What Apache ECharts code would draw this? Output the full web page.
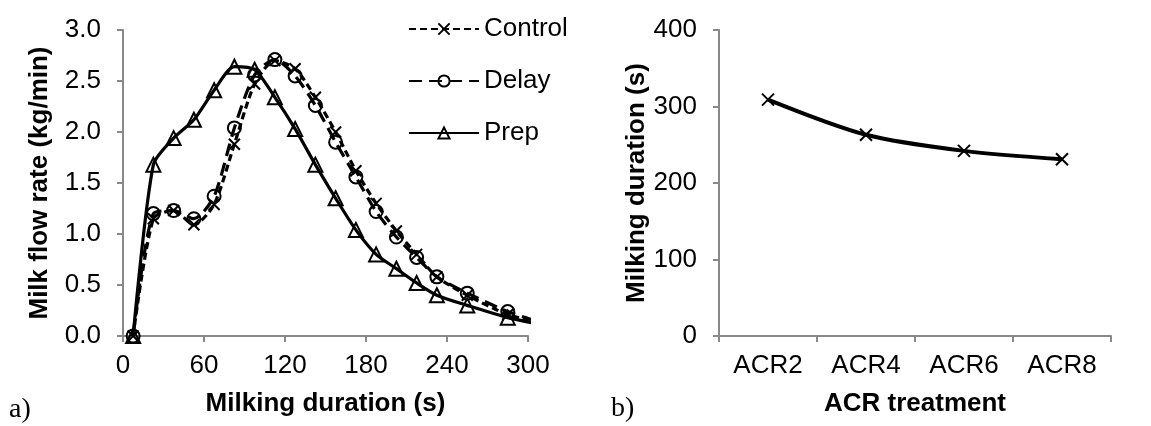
<!DOCTYPE html>
<html>
<head>
<meta charset="utf-8">
<script src="https://cdn.jsdelivr.net/npm/echarts@6/dist/echarts.min.js"></script>
<style>
  html, body { margin: 0; padding: 0; background: #fff; }
  #main { width: 1151px; height: 426px; }
</style>
</head>
<body>
<div id="main"></div>
<script>
// a) milk flow rate curves
var durations = [7.5, 22.5, 37.5, 52.5, 67.5, 82.5, 97.5, 112.5, 127.5, 142.5, 157.5, 172.5, 187.5, 202.5, 217.5, 232.5, 255, 285, 315];
var control = [0, 1.15, 1.23, 1.09, 1.29, 1.88, 2.47, 2.70, 2.62, 2.34, 2.00, 1.62, 1.30, 1.03, 0.80, 0.58, 0.40, 0.21, 0.11];
var delay = [0, 1.20, 1.23, 1.15, 1.37, 2.04, 2.56, 2.71, 2.55, 2.26, 1.90, 1.56, 1.22, 0.97, 0.77, 0.58, 0.42, 0.24, 0.11];
var prep = [0, 1.68, 1.94, 2.12, 2.41, 2.64, 2.61, 2.34, 2.03, 1.68, 1.35, 1.04, 0.80, 0.66, 0.52, 0.40, 0.30, 0.18, 0.10];

// b) milking duration by treatment
var treatments = ['ACR2', 'ACR4', 'ACR6', 'ACR8'];
var duration = [309, 263, 242, 231];

var font = 'Liberation Sans, Arial, sans-serif';
var crossPath = 'path://M0,0L10,10M10,0L0,10';

function pairs(xs, ys) {
  var out = [];
  for (var i = 0; i < xs.length; i++) {
    out.push([xs[i], ys[i]]);
  }
  return out;
}

function axisBase() {
  return {
    axisLine: { show: true, lineStyle: { color: '#898989', width: 2 } },
    axisTick: { show: true, length: 6, lineStyle: { color: '#898989', width: 2 } },
    splitLine: { show: false },
    nameLocation: 'middle',
    nameTextStyle: { color: '#000', fontSize: 26, fontWeight: 'bold', fontFamily: font }
  };
}

var chart = echarts.init(document.getElementById('main'));

var option = {
  backgroundColor: '#ffffff',
  animation: false,
  grid: [
    { left: 123, top: 30, width: 405, height: 306 },
    { left: 719, top: 30, width: 392, height: 306 }
  ],
  legend: {
    orient: 'vertical',
    left: 403,
    top: 11,
    itemWidth: 70,
    itemHeight: 14,
    itemGap: 26,
    textStyle: { color: '#000', fontSize: 26, fontFamily: font },
    data: ['Control', 'Delay', 'Prep']
  },
  xAxis: [
    Object.assign(axisBase(), {
      gridIndex: 0, type: 'value', min: 0, max: 300, interval: 60,
      name: 'Milking duration (s)', nameGap: 55,
      axisLabel: { color: '#000', fontSize: 26, fontFamily: font, margin: 17 }
    }),
    Object.assign(axisBase(), {
      gridIndex: 1, type: 'category', data: treatments, boundaryGap: true,
      name: 'ACR treatment', nameGap: 55,
      axisLabel: { color: '#000', fontSize: 26, fontFamily: font, margin: 17 }
    })
  ],
  yAxis: [
    Object.assign(axisBase(), {
      gridIndex: 0, type: 'value', min: 0, max: 3, interval: 0.5,
      name: 'Milk flow rate (kg/min)', nameGap: 70,
      axisLabel: {
        color: '#000', fontSize: 26, fontFamily: font, margin: 22,
        formatter: function (v) { return v.toFixed(1); }
      }
    }),
    Object.assign(axisBase(), {
      gridIndex: 1, type: 'value', min: 0, max: 400, interval: 100,
      name: 'Milking duration (s)', nameGap: 66,
      axisLabel: { color: '#000', fontSize: 26, fontFamily: font, margin: 22 }
    })
  ],
  series: [
    {
      name: 'Control', type: 'line', xAxisIndex: 0, yAxisIndex: 0,
      data: pairs(durations, control), smooth: 0.25, clip: true,
      symbol: crossPath, symbolSize: 11,
      itemStyle: { color: '#000', borderColor: '#000', borderWidth: 2 },
      lineStyle: { color: '#000', width: 3.2, type: [7, 4] }
    },
    {
      name: 'Delay', type: 'line', xAxisIndex: 0, yAxisIndex: 0,
      data: pairs(durations, delay), smooth: 0.25, clip: true,
      symbol: 'circle', symbolSize: 13,
      itemStyle: { color: 'rgba(255,255,255,0)', borderColor: '#000', borderWidth: 2 },
      lineStyle: { color: '#000', width: 3.2, type: [13, 7] }
    },
    {
      name: 'Prep', type: 'line', xAxisIndex: 0, yAxisIndex: 0,
      data: pairs(durations, prep), smooth: 0.25, clip: true,
      symbol: 'triangle', symbolSize: 14,
      itemStyle: { color: 'rgba(255,255,255,0)', borderColor: '#000', borderWidth: 2 },
      lineStyle: { color: '#000', width: 3.2, type: 'solid' }
    },
    {
      name: 'Duration', type: 'line', xAxisIndex: 1, yAxisIndex: 1,
      data: duration, smooth: 0.3,
      symbol: crossPath, symbolSize: 12,
      itemStyle: { color: '#000', borderColor: '#000', borderWidth: 2 },
      lineStyle: { color: '#000', width: 4 }
    }
  ],
  graphic: [
    { type: 'text', left: 9, top: 396, style: { text: 'a)', fontSize: 28, fontFamily: 'Liberation Serif, serif', fill: '#000' } },
    { type: 'text', left: 611, top: 395, style: { text: 'b)', fontSize: 28, fontFamily: 'Liberation Serif, serif', fill: '#000' } }
  ]
};

chart.setOption(option);
</script>
</body>
</html>
